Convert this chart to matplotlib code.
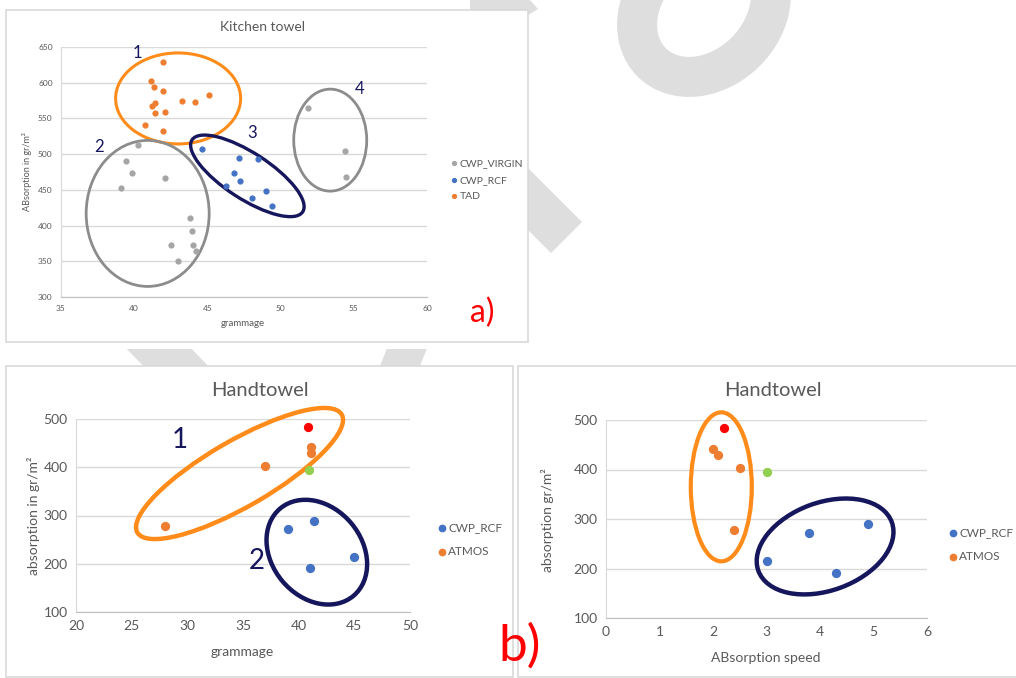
import matplotlib.pyplot as plt
import numpy as np
from matplotlib.patches import Ellipse, Polygon, Rectangle
from matplotlib.transforms import ScaledTranslation

plt.rcParams['font.family'] = ['Lato', 'DejaVu Sans']

# ---- data: kitchen towel (grammage vs absorption) ----
virgin_x = [40.24, 39.47, 39.85, 39.12, 42.11, 43.84, 43.93, 42.54, 44.05, 44.2, 43.02, 51.86, 54.39, 54.5]
virgin_y = [513, 491, 473, 452, 467, 411, 393, 373, 373, 364, 351, 564, 505, 468]
rcf_x = [44.62, 47.15, 48.45, 46.8, 47.2, 46.3, 49.0, 48.04, 49.38]
rcf_y = [507, 494, 493, 473, 462, 455, 449, 438, 427]
tad_x = [42.0, 41.15, 41.34, 41.95, 45.12, 43.25, 44.18, 41.45, 41.22, 41.45, 42.1, 40.74, 42.0]
tad_y = [629, 603, 594, 588, 583, 574, 573, 572, 568, 558, 559, 541, 532]

# ---- data: handtowel ----
ht_rcf_gram = [39.0, 41.4, 45.0, 41.0]
ht_rcf_speed = [3.8, 4.9, 3.0, 4.3]
ht_rcf_abs = [271, 289, 215, 191]
ht_atmos_gram = [41.1, 41.1, 37.0, 28.0]
ht_atmos_speed = [2.0, 2.1, 2.5, 2.4]
ht_atmos_abs = [442, 430, 403, 278]
ht_red_gram, ht_red_speed, ht_red_abs = [40.8], [2.2], [484]
ht_green_gram, ht_green_speed, ht_green_abs = [40.9], [3.0], [395]

W, H = 1016, 678
GRAY_T = '#595959'
C_BLUE = '#4472C4'
C_ORANGE = '#ED7D31'
C_GRAY = '#A5A5A5'
C_RED = '#FF0000'
C_GREEN = '#92D050'
E_ORANGE = '#FF8C1A'
E_NAVY = '#16165C'
E_GRAY = '#8C8C8C'


def fpt(x, y):
    return (x / W, 1 - y / H)


def px_box(x0, y0, x1, y1):
    return [x0 / W, 1 - y1 / H, (x1 - x0) / W, (y1 - y0) / H]


fig = plt.figure(figsize=(W / 100, H / 100), dpi=100)

# watermark pieces behind the panels
wm_color = '#dedede'
for pts in [[(500, 140), (582, 222), (551, 253), (500, 202)],
            [(470, 0), (530, 0), (538, 9), (528, 15), (470, 15)],
            [(126.7, 349), (191.7, 349), (208.3, 366), (143.3, 366)],
            [(386.7, 349), (426.7, 349), (420, 366), (380, 366)]]:
    fig.add_artist(Polygon([fpt(x, y) for x, y in pts], closed=True, transform=fig.transFigure,
                           facecolor=wm_color, edgecolor='none', zorder=0))
fig.add_artist(Ellipse((7.04, (H - 10) / 100), 1.48, 1.18, angle=45, transform=fig.dpi_scale_trans,
                       fill=False, edgecolor=wm_color, lw=28.8, zorder=0))

# panel frames
for x0, y0, x1, y1 in [(6, 10, 528, 342), (6, 366, 513, 677), (518, 366, 1030, 677)]:
    fig.add_artist(Rectangle((x0 / W, 1 - y1 / H), (x1 - x0) / W, (y1 - y0) / H,
                             transform=fig.transFigure, facecolor='white',
                             edgecolor='#d9d9d9', lw=1.2, zorder=1))


def style_axes(ax, xlim, xticks, ylim, yticks, fs):
    ax.set_facecolor('none')
    ax.set_zorder(2)
    ax.set_xlim(*xlim)
    ax.set_ylim(*ylim)
    ax.set_xticks(xticks)
    ax.set_yticks(yticks)
    for s in ['top', 'right']:
        ax.spines[s].set_visible(False)
    ax.spines['left'].set_color('#d9d9d9')
    ax.spines['bottom'].set_color('#bfbfbf')
    ax.yaxis.grid(True, color='#d9d9d9', lw=1)
    ax.set_axisbelow(True)
    ax.tick_params(length=0, colors=GRAY_T, labelsize=fs, pad=6)


def ring(ax, cx, cy, w, h, ang, color, lw):
    tr = fig.dpi_scale_trans + ScaledTranslation(cx, cy, ax.transData)
    ax.add_patch(Ellipse((0, 0), w / 100, h / 100, angle=ang, transform=tr, fill=False,
                         edgecolor=color, lw=lw, zorder=3, clip_on=False))


# ---- a) kitchen towel ----
ax = fig.add_axes(px_box(61, 47, 427, 297))
style_axes(ax, (35, 60), range(35, 61, 5), (300, 650), range(300, 651, 50), 6)
ax.scatter(virgin_x, virgin_y, s=12, color=C_GRAY, label='CWP_VIRGIN', zorder=4)
ax.scatter(rcf_x, rcf_y, s=12, color=C_BLUE, label='CWP_RCF', zorder=4)
ax.scatter(tad_x, tad_y, s=12, color=C_ORANGE, label='TAD', zorder=4)
ring(ax, 43.0, 578, 125, 91, 0, E_ORANGE, 2.2)
ring(ax, 40.92, 417, 123, 146, 0, E_GRAY, 2.0)
ring(ax, 47.73, 469.6, 132, 46, -33, E_NAVY, 2.4)
ring(ax, 53.39, 519.6, 73, 102, 0, E_GRAY, 2.0)
for t, x, y in [('1', 40.24, 641), ('2', 37.6, 510), ('3', 48.03, 530), ('4', 55.42, 591)]:
    ax.text(x, y, t, color=E_NAVY, fontsize=12, ha='center', va='center', zorder=5)
ax.legend(loc='center left', bbox_to_anchor=fpt(451, 180), bbox_transform=fig.transFigure,
          frameon=False, fontsize=7.5, labelcolor=GRAY_T, handlelength=0.5, handletextpad=0.3,
          labelspacing=0.7, borderpad=0, borderaxespad=0, markerscale=0.8)
fig.text(*fpt(263, 27), 'Kitchen towel', ha='center', va='center', fontsize=10, color=GRAY_T)
fig.text(*fpt(243, 323), 'grammage', ha='center', va='center', fontsize=7, color=GRAY_T)
fig.text(*fpt(27, 172), 'ABsorption in gr/m²', ha='center', va='center', rotation=90, fontsize=6.5, color=GRAY_T)
fig.text(*fpt(482, 313), 'a)', ha='center', va='center', fontsize=23, color=C_RED, zorder=6)

# ---- b) handtowel vs grammage ----
ax = fig.add_axes(px_box(76, 419, 410, 612))
style_axes(ax, (20, 50), range(20, 51, 5), (100, 500), range(100, 501, 100), 10)
ax.scatter(ht_rcf_gram, ht_rcf_abs, s=32, color=C_BLUE, label='CWP_RCF', zorder=4)
ax.scatter(ht_atmos_gram, ht_atmos_abs, s=32, color=C_ORANGE, label='ATMOS', zorder=4)
ax.scatter(ht_red_gram, ht_red_abs, s=32, color=C_RED, zorder=4)
ax.scatter(ht_green_gram, ht_green_abs, s=32, color=C_GREEN, zorder=4)
ring(ax, 34.69, 387, 236, 66, 30, E_ORANGE, 3.2)
ring(ax, 41.63, 224, 114, 90, -50, E_NAVY, 3.2)
for t, x, y in [('1', 29.36, 457), ('2', 36.24, 205)]:
    ax.text(x, y, t, color=E_NAVY, fontsize=20, ha='center', va='center', zorder=5)
ax.legend(loc='center left', bbox_to_anchor=fpt(439, 540), bbox_transform=fig.transFigure,
          frameon=False, fontsize=8.5, labelcolor=GRAY_T, handlelength=0.5, handletextpad=0.3,
          labelspacing=1.1, borderpad=0, borderaxespad=0, markerscale=0.8)
fig.text(*fpt(260, 390), 'Handtowel', ha='center', va='center', fontsize=14.5, color=GRAY_T)
fig.text(*fpt(242, 652), 'grammage', ha='center', va='center', fontsize=10, color=GRAY_T)
fig.text(*fpt(33, 516), 'absorption in gr/m²', ha='center', va='center', rotation=90, fontsize=10, color=GRAY_T)

# ---- b) handtowel vs absorption speed ----
ax = fig.add_axes(px_box(606, 420, 927, 618))
style_axes(ax, (0, 6), range(0, 7), (100, 500), range(100, 501, 100), 10)
ax.scatter(ht_rcf_speed, ht_rcf_abs, s=32, color=C_BLUE, label='CWP_RCF', zorder=4)
ax.scatter(ht_atmos_speed, ht_atmos_abs, s=32, color=C_ORANGE, label='ATMOS', zorder=4)
ax.scatter(ht_red_speed, ht_red_abs, s=32, color=C_RED, zorder=4)
ax.scatter(ht_green_speed, ht_green_abs, s=32, color=C_GREEN, zorder=4)
ring(ax, 2.155, 365, 61, 149, 0, E_ORANGE, 3.0)
ring(ax, 4.095, 244.5, 142, 88, 20, E_NAVY, 3.2)
ax.legend(loc='center left', bbox_to_anchor=fpt(950, 545), bbox_transform=fig.transFigure,
          frameon=False, fontsize=8.5, labelcolor=GRAY_T, handlelength=0.5, handletextpad=0.3,
          labelspacing=1.1, borderpad=0, borderaxespad=0, markerscale=0.8)
fig.text(*fpt(773, 391), 'Handtowel', ha='center', va='center', fontsize=14.5, color=GRAY_T)
fig.text(*fpt(766, 658), 'ABsorption speed', ha='center', va='center', fontsize=10, color=GRAY_T)
fig.text(*fpt(547, 520), 'absorption gr/m²', ha='center', va='center', rotation=90, fontsize=10, color=GRAY_T)

fig.text(*fpt(520, 646), 'b)', ha='center', va='center', fontsize=37, color=C_RED, zorder=6)

fig.savefig('out.png', dpi=100)
